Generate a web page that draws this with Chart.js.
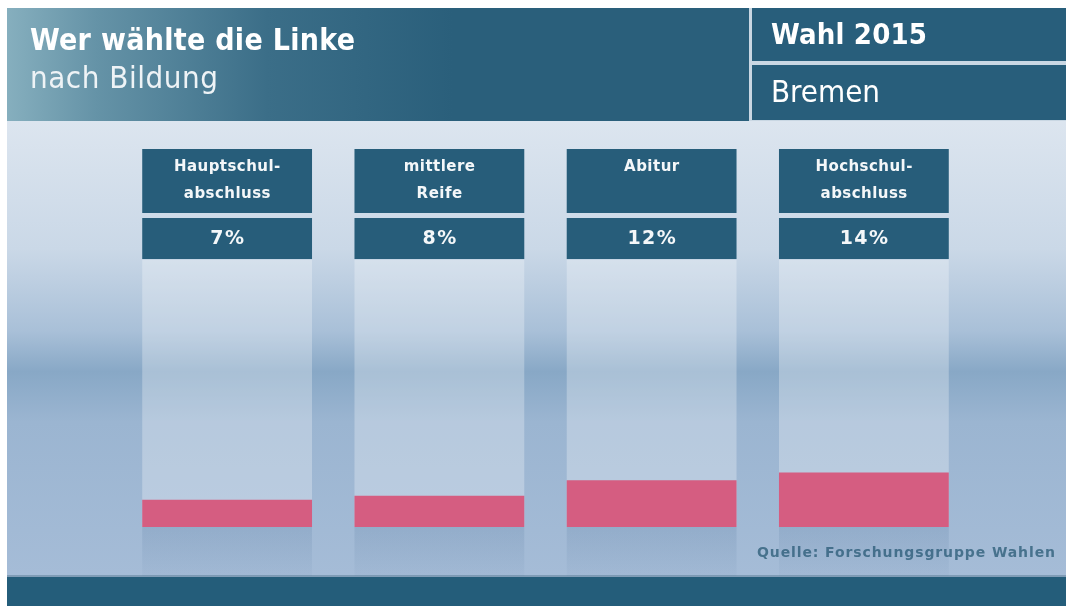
<!DOCTYPE html>
<html>
<head>
<meta charset="utf-8">
<title>Wer wählte die Linke – nach Bildung</title>
<script src="https://cdn.jsdelivr.net/npm/chart.js@4"></script>
<style>
  html, body { margin: 0; padding: 0; background: #fff; }
  #wrap { width: 1066px; height: 606px; position: relative; }
</style>
</head>
<body>
<div id="wrap"><canvas id="chart" width="1066" height="606"></canvas></div>
<script>
const categories = [['Hauptschul-', 'abschluss'], ['mittlere', 'Reife'], ['Abitur'], ['Hochschul-', 'abschluss']];
const shares = [7, 8, 12, 14];
const title = 'Wer wählte die Linke';
const subtitle = 'nach Bildung';
const election = 'Wahl 2015';
const region = 'Bremen';
const source = 'Quelle: Forschungsgruppe Wahlen';

const COND = '"DejaVu Sans Condensed", "DejaVu Sans", sans-serif';
const WIDE = '"DejaVu Sans", sans-serif';
const DARK = '#275d7a';

// text with a little letter spacing so it gets near the wanted width
function spacedText(ctx, text, x, y, font, wantW) {
    ctx.font = font;
    ctx.letterSpacing = '0px';
    const w = ctx.measureText(text).width;
    let sp = (wantW - w) / Math.max(1, text.length - 1);
    sp = Math.max(-0.5, Math.min(1.5, sp));
    ctx.letterSpacing = sp + 'px';
    let dx = 0;
    if (ctx.textAlign === 'center') dx = sp / 2;
    if (ctx.textAlign === 'right') dx = sp;
    ctx.fillText(text, x + dx, y);
    ctx.letterSpacing = '0px';
}

const frame = {
    id: 'frame',
    beforeDraw(chart) {
        const ctx = chart.ctx;
        ctx.save();
        // body gradient
        const g = ctx.createLinearGradient(0, 122, 0, 576);
        g.addColorStop(0, '#dce5ef');
        g.addColorStop(0.28, '#cad8e7');
        g.addColorStop(0.46, '#a9c0d8');
        g.addColorStop(0.55, '#88a8c6');
        g.addColorStop(0.66, '#9bb5d1');
        g.addColorStop(1, '#a5bcd7');
        ctx.fillStyle = g;
        ctx.fillRect(7, 120, 1059, 456);

        // header left panel
        const h = ctx.createLinearGradient(7, 0, 750, 0);
        h.addColorStop(0, '#86afbe');
        h.addColorStop(0.12, '#6593a7');
        h.addColorStop(0.35, '#3b6e88');
        h.addColorStop(0.6, '#2a5f7b');
        h.addColorStop(1, '#2a5f7b');
        ctx.fillStyle = h;
        ctx.fillRect(7, 8, 742, 113);

        // header right panels
        ctx.fillStyle = '#c9d7e3';
        ctx.fillRect(749, 8, 317, 113);
        ctx.fillStyle = '#285e7b';
        ctx.fillRect(752, 8, 314, 53);
        ctx.fillRect(752, 65, 314, 55);

        // footer
        ctx.fillStyle = '#7f9cb6';
        ctx.fillRect(7, 575, 1059, 2);
        ctx.fillStyle = '#245d7a';
        ctx.fillRect(7, 577, 1059, 29);

        // header texts
        ctx.fillStyle = '#ffffff';
        ctx.textBaseline = 'middle';
        ctx.textAlign = 'left';
        spacedText(ctx, title, 30, 42, `bold 30px ${COND}`, 325);
        ctx.fillStyle = '#eef3f6';
        spacedText(ctx, subtitle, 30, 80, `31px ${COND}`, 188);
        ctx.fillStyle = '#ffffff';
        spacedText(ctx, election, 771, 36, `bold 29px ${COND}`, 156);
        spacedText(ctx, region, 771, 94, `31px ${COND}`, 109);

        // source
        ctx.fillStyle = '#47728d';
        ctx.textAlign = 'right';
        spacedText(ctx, source, 1055, 553, `bold 14px ${WIDE}`, 298);
        ctx.restore();
    },
    beforeDatasetsDraw(chart) {
        const ctx = chart.ctx;
        const area = chart.chartArea;
        ctx.save();
        chart.getDatasetMeta(0).data.forEach(bar => {
            const x0 = bar.x - bar.width / 2;
            ctx.fillStyle = 'rgba(255,255,255,0.28)';
            ctx.fillRect(x0, 260, bar.width, area.bottom - 260);
            const r = ctx.createLinearGradient(0, area.bottom, 0, 576);
            r.addColorStop(0, 'rgba(40,80,125,0.12)');
            r.addColorStop(1, 'rgba(40,80,125,0.03)');
            ctx.fillStyle = r;
            ctx.fillRect(x0, area.bottom, bar.width, 576 - area.bottom);
        });
        ctx.restore();
    },
    afterDraw(chart) {
        const ctx = chart.ctx;
        ctx.save();
        ctx.textAlign = 'center';
        ctx.textBaseline = 'middle';
        chart.getDatasetMeta(0).data.forEach((bar, i) => {
            const x0 = bar.x - bar.width / 2;
            ctx.fillStyle = DARK;
            ctx.fillRect(x0, 149, bar.width, 64);
            ctx.fillRect(x0, 218, bar.width, 41);
            ctx.fillStyle = '#f4f7f9';
            categories[i].forEach((line, k) => {
                const f = `bold 15px ${WIDE}`;
                ctx.font = f;
                const w = ctx.measureText(line).width;
                spacedText(ctx, line, bar.x, 167 + k * 27, f, w + line.length * 0.4);
            });
            const v = shares[i] + '%';
            const vf = `bold 19px ${WIDE}`;
            ctx.font = vf;
            const vw = ctx.measureText(v).width;
            spacedText(ctx, v, bar.x, 239, vf, vw + v.length * 1);
        });
        ctx.restore();
    }
};

new Chart(document.getElementById('chart'), {
    type: 'bar',
    data: {
        labels: categories,
        datasets: [{
            data: shares,
            backgroundColor: '#d55d81',
            borderWidth: 0,
            barPercentage: 0.8,
            categoryPercentage: 1
        }]
    },
    options: {
        responsive: false,
        animation: false,
        events: [],
        layout: { padding: { left: 121, right: 96, top: 262, bottom: 79 } },
        plugins: { legend: { display: false }, tooltip: { enabled: false } },
        scales: {
            x: { display: false },
            y: { display: false, min: 0, max: 68 }
        }
    },
    plugins: [frame]
});
</script>
</body>
</html>
